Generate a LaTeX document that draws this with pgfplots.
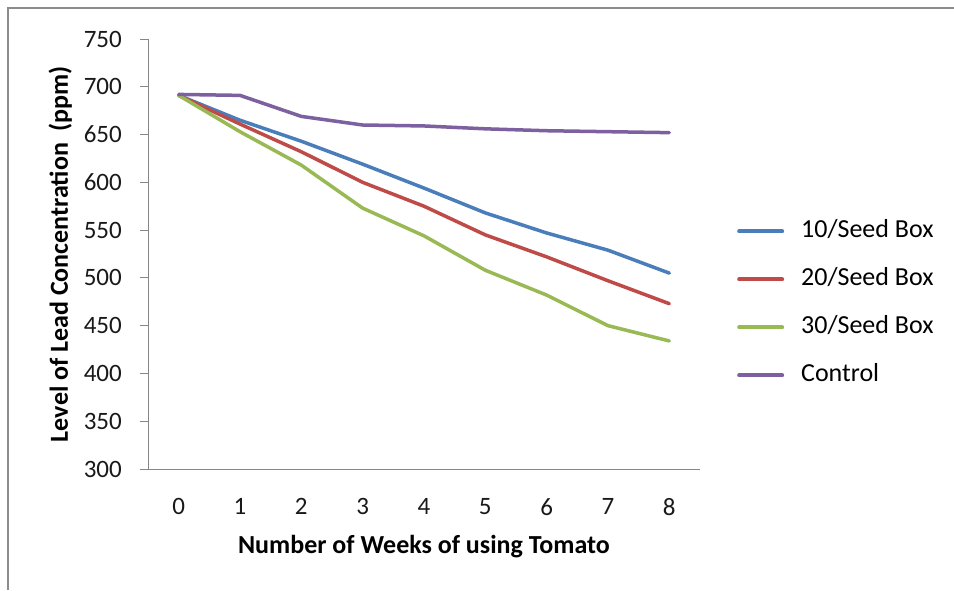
\documentclass[border=0pt]{standalone}
\usepackage{fontspec}
\setmainfont{Carlito}
\usepackage{pgfplots}
\pgfplotsset{compat=1.18}

\definecolor{xlblue}{HTML}{4A7EBB}
\definecolor{xlred}{HTML}{BE4B48}
\definecolor{xlgreen}{HTML}{98B954}
\definecolor{xlpurple}{HTML}{7D60A0}
\definecolor{axisgray}{HTML}{868686}

\begin{document}
\begin{tikzpicture}
  % page size = reference pixels, axis lower left at pixel (148,469)
  \useasboundingbox (-148pt,-121pt) rectangle (806pt,469pt);
  \draw[gray!90, line width=1.5pt] (-140pt,-121pt) -- (-140pt,461pt) -- (806pt,461pt);
  \begin{axis}[
      at={(0pt,0pt)}, anchor=south west,
      scale only axis,
      width=552pt, height=430pt,
      xmin=-0.5, xmax=8.5,
      ymin=300, ymax=750,
      xtick={0,1,...,8},
      ytick={300,350,...,750},
      axis x line*=bottom,
      axis y line*=left,
      axis line style={axisgray, line width=0.8pt, -},
      tick align=outside,
      major tick length=8pt,
      major tick style={axisgray, line width=0.8pt},
      major x tick style={draw=none},
      /pgf/number format/assume math mode=true,
      ticklabel style={font=\fontsize{25}{30}\selectfont, text=black!90},
      xticklabel style={anchor=north, inner sep=0pt, yshift=-21pt},
      yticklabel style={anchor=east, inner sep=0pt, xshift=-18pt},
      xlabel={\textbf{Number of Weeks of using Tomato}},
      ylabel={\textbf{Level of Lead Concentration\ \ (ppm)}},
      label style={font=\fontsize{26}{30}\selectfont},
      xlabel style={at={(axis description cs:0.5,-0.181)}, anchor=center},
      ylabel style={at={(axis description cs:-0.159,0.5)}, anchor=center},
      legend style={
        at={(1.067,0.385)}, anchor=west,
        draw=none, fill=none, inner sep=0pt,
        font=\fontsize{26}{30}\selectfont,
        row sep=24pt,
        nodes={inner xsep=0pt, inner ysep=0pt, text height=18pt, text depth=6pt},
        /tikz/every odd column/.append style={column sep=17pt},
      },
      legend cell align=left,
      legend image code/.code={
        \draw[#1, line width=4pt] (0pt,0pt) -- (43pt,0pt);
      },
      every axis plot/.append style={line width=3.5pt, line join=round, line cap=round, mark=none},
    ]
    \addplot[xlblue] coordinates {
      (0,691) (1,665) (2,643) (3,619) (4,594) (5,568) (6,547) (7,529) (8,505)
    };
    \addlegendentry{10/Seed Box}
    \addplot[xlred] coordinates {
      (0,691) (1,661) (2,632) (3,600) (4,575) (5,545) (6,522) (7,497) (8,473)
    };
    \addlegendentry{20/Seed Box}
    \addplot[xlgreen] coordinates {
      (0,691) (1,653) (2,618) (3,573) (4,544) (5,508) (6,482) (7,450) (8,434)
    };
    \addlegendentry{30/Seed Box}
    \addplot[xlpurple] coordinates {
      (0,692) (1,691) (2,669) (3,660) (4,659) (5,656) (6,654) (7,653) (8,652)
    };
    \addlegendentry{Control}
  \end{axis}
\end{tikzpicture}
\end{document}
